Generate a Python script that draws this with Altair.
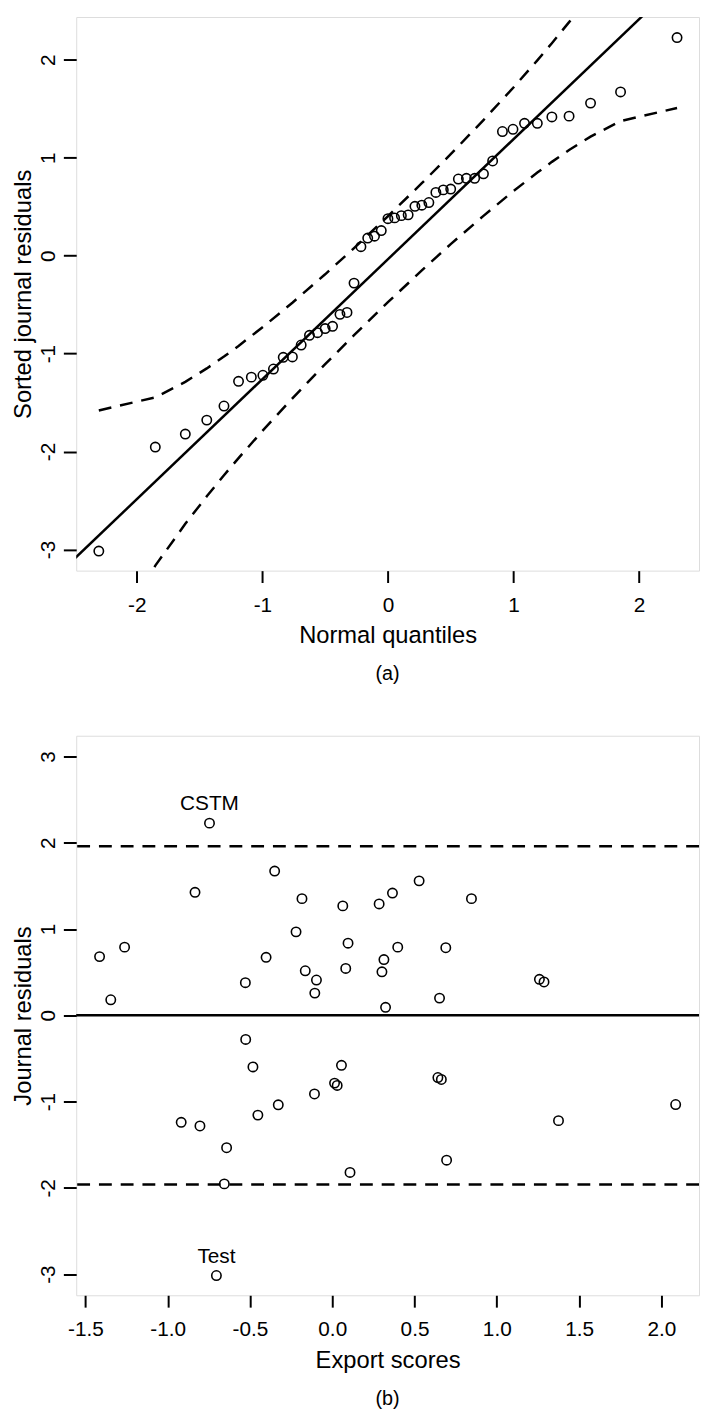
import altair as alt
import pandas as pd

FONT = "Liberation Sans"

# ---------------- Panel (a): normal Q-Q plot ----------------
qq_theoretical = [-2.303, -1.853, -1.614, -1.443, -1.306, -1.190, -1.088, -0.996, -0.912, -0.834,
                  -0.761, -0.691, -0.625, -0.561, -0.500, -0.441, -0.382, -0.326, -0.270, -0.215,
                  -0.161, -0.107, -0.053, 0.000, 0.053, 0.107, 0.161, 0.215, 0.270, 0.326,
                  0.382, 0.441, 0.500, 0.561, 0.625, 0.691, 0.761, 0.834, 0.912, 0.996,
                  1.088, 1.190, 1.306, 1.443, 1.614, 1.853, 2.303]
qq_sorted = [-3.016, -1.954, -1.821, -1.679, -1.535, -1.283, -1.240, -1.221, -1.157, -1.038,
             -1.034, -0.912, -0.813, -0.786, -0.744, -0.721, -0.599, -0.580, -0.280, 0.092,
             0.180, 0.199, 0.257, 0.378, 0.386, 0.409, 0.417, 0.504, 0.516, 0.543,
             0.646, 0.672, 0.680, 0.783, 0.790, 0.790, 0.836, 0.967, 1.268, 1.291,
             1.352, 1.352, 1.417, 1.425, 1.558, 1.672, 2.227]

qq_line_x = [-2.6, 2.6]
qq_line_y = [-3.221, 3.149]

band_x = [-2.303, -1.853, -1.614, -1.443, -1.306, -1.190, -0.996, -0.761, -0.500, -0.270, 0.0,
          0.270, 0.500, 0.761, 0.996, 1.190, 1.306, 1.443, 1.614, 1.853, 2.303]
band_upper = [-1.580, -1.447, -1.288, -1.151, -1.030, -0.921, -0.728, -0.480, -0.190, 0.078, 0.403,
              0.740, 1.036, 1.385, 1.712, 1.995, 2.170, 2.385, 2.666, 3.093, 4.062]
band_lower = [-4.134, -3.165, -2.738, -2.457, -2.242, -2.067, -1.784, -1.457, -1.108, -0.812, -0.475,
              -0.150, 0.118, 0.407, 0.656, 0.849, 0.958, 1.079, 1.216, 1.375, 1.508]

# ---------------- Panel (b): residuals vs export scores ----------------
export_scores = [-1.414, -1.346, -1.262, -0.746, -0.834, -0.528, -0.402, -0.350, -0.220, -0.184,
                 -0.164, -0.096, -0.106, 0.064, 0.096, 0.082, 0.285, 0.366, 0.528, 0.846,
                 0.314, 0.302, 0.398, 0.690, 0.324, 0.652, 1.259, 1.287,
                 -0.526, -0.482, 0.056, 0.014, 0.030, -0.108, -0.328, -0.452, -0.918, -0.804,
                 -0.642, -0.656, 0.108, -0.704, 0.642, 0.663, 1.375, 2.087, 0.695]
journal_residuals = [0.680, 0.180, 0.790, 2.227, 1.425, 0.378, 0.672, 1.672, 0.967, 1.352,
                     0.516, 0.409, 0.257, 1.268, 0.836, 0.543, 1.291, 1.417, 1.558, 1.352,
                     0.646, 0.504, 0.790, 0.783, 0.092, 0.199, 0.417, 0.386,
                     -0.280, -0.599, -0.580, -0.786, -0.813, -0.912, -1.038, -1.157, -1.240, -1.283,
                     -1.535, -1.954, -1.821, -3.016, -0.721, -0.744, -1.221, -1.034, -1.679]

label_names = ["CSTM", "Test"]
label_x = [-0.746, -0.704]
label_y = [2.227, -3.016]

zero_line = [0.0]
limit_lines = [-1.96, 1.96]

# ---------------- data frames ----------------
df_qq = pd.DataFrame({"x": qq_theoretical, "y": qq_sorted})
df_qqline = pd.DataFrame({"x": qq_line_x, "y": qq_line_y})
df_band = pd.concat([
    pd.DataFrame({"x": band_x, "y": band_upper, "band": "upper"}),
    pd.DataFrame({"x": band_x, "y": band_lower, "band": "lower"}),
])
df_res = pd.DataFrame({"x": export_scores, "y": journal_residuals})
df_lab = pd.DataFrame({"x": label_x, "y": label_y, "name": label_names})
df_zero = pd.DataFrame({"y": zero_line})
df_lim = pd.DataFrame({"y": limit_lines})

MINUS_FIX = "replace(datum.label, '\u2212', '-')"
DASH = [13, 9]
LW = 2.5


def x_axis(title, values, fmt):
    return alt.Axis(title=title, values=values, format=fmt, labelExpr=MINUS_FIX,
                    grid=False, domain=False, ticks=True, tickSize=12, tickWidth=2,
                    tickColor="black", labelFontSize=21, labelColor="black", labelFont=FONT,
                    labelPadding=12, labelFlush=False, titleFontSize=24, titleFont=FONT,
                    titleFontWeight="normal", titleColor="black", titlePadding=9)


def y_axis(title, values):
    return alt.Axis(title=title, values=values, format="d", labelExpr=MINUS_FIX,
                    grid=False, domain=False, ticks=True, tickSize=13, tickWidth=2,
                    tickColor="black", labelFontSize=21, labelColor="black", labelFont=FONT,
                    labelAngle=-90, labelAlign="center", labelBaseline="middle",
                    labelPadding=15, labelFlush=False, titleFontSize=24, titleFont=FONT,
                    titleFontWeight="normal", titleColor="black", titlePadding=2)


def caption(text):
    return alt.TitleParams(text=text, orient="bottom", anchor="middle", frame="group",
                           fontSize=20, fontWeight="normal", font=FONT, color="black", offset=17)


# Panel (a)
xa = alt.X("x:Q", scale=alt.Scale(domain=[-2.483, 2.478], nice=False, zero=False),
           axis=x_axis("Normal quantiles", [-2, -1, 0, 1, 2], "d"))
ya = alt.Y("y:Q", scale=alt.Scale(domain=[-3.216, 2.437], nice=False, zero=False),
           axis=y_axis("Sorted journal residuals", [-3, -2, -1, 0, 1, 2]))

a_line = alt.Chart(df_qqline).mark_line(color="black", strokeWidth=LW, clip=True).encode(x=xa, y=ya)
a_band = alt.Chart(df_band).mark_line(color="black", strokeWidth=LW, strokeDash=DASH,
                                      clip=True).encode(x=xa, y=ya, detail="band:N")
a_pts = alt.Chart(df_qq).mark_point(shape="circle", filled=False, size=90, color="black",
                                    strokeWidth=1.6, opacity=1).encode(x=xa, y=ya)

chart_a = alt.layer(a_line, a_band, a_pts).properties(width=630, height=560, title=caption("(a)"))

# Panel (b)
xb = alt.X("x:Q", scale=alt.Scale(domain=[-1.556, 2.229], nice=False, zero=False),
           axis=x_axis("Export scores", [-1.5, -1.0, -0.5, 0.0, 0.5, 1.0, 1.5, 2.0], ".1f"))
yb = alt.Y("y:Q", scale=alt.Scale(domain=[-3.245, 3.24], nice=False, zero=False),
           axis=y_axis("Journal residuals", [-3, -2, -1, 0, 1, 2, 3]))

b_zero = alt.Chart(df_zero).mark_rule(color="black", strokeWidth=LW).encode(y=yb)
b_lim = alt.Chart(df_lim).mark_rule(color="black", strokeWidth=LW, strokeDash=DASH).encode(y=yb)
b_pts = alt.Chart(df_res).mark_point(shape="circle", filled=False, size=90, color="black",
                                     strokeWidth=1.6, opacity=1).encode(x=xb, y=yb)
b_lab = alt.Chart(df_lab).mark_text(font=FONT, fontSize=21, color="black", align="center",
                                    baseline="alphabetic", dy=-13).encode(x=xb, y=yb, text="name:N")

chart_b = alt.layer(b_zero, b_lim, b_pts, b_lab).properties(width=630, height=566, title=caption("(b)"))

chart = alt.vconcat(chart_a, chart_b, spacing=167, bounds="flush").properties(
    padding={"left": 3, "top": 0, "right": 0, "bottom": 0}
).configure_view(stroke="black", strokeWidth=2).configure(background="white")

chart.save("out.html", embed_options={"renderer": "svg", "actions": False})
